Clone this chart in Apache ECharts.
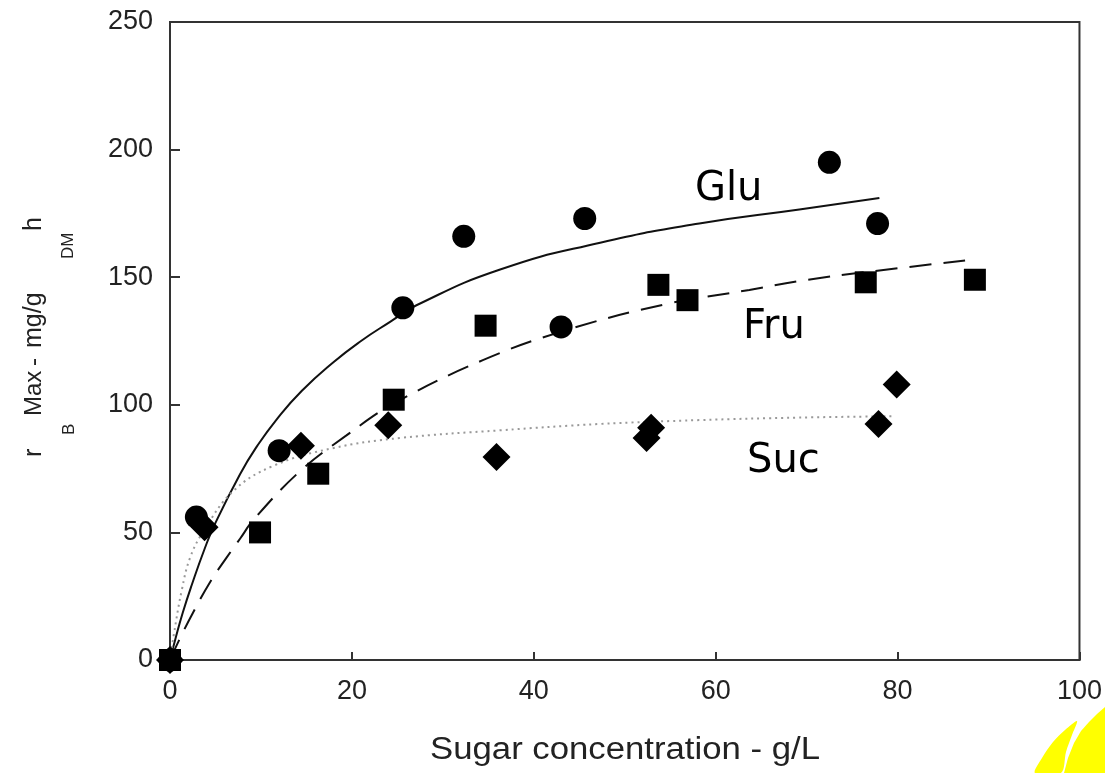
<!DOCTYPE html>
<html><head><meta charset="utf-8">
<script src="https://cdn.jsdelivr.net/npm/echarts@6/dist/echarts.min.js"></script>
<style>html,body{margin:0;padding:0;background:#fff}#chart{width:1105px;height:773px}</style>
</head><body><div id="chart"></div>
<script>
// Measured points (sugar concentration g/L, rate)
const gluX = [0, 2.9, 12.0, 25.6, 32.3, 43.0, 45.6, 72.5, 77.8];
const gluY = [0, 56, 82, 138, 166, 130.5, 173, 195, 171];
const fruX = [0, 9.9, 16.3, 24.6, 34.7, 53.7, 56.9, 76.5, 88.5];
const fruY = [0, 50, 73, 102, 131, 147, 141, 148, 149];
const sucX = [0, 3.8, 14.4, 24.0, 35.9, 52.4, 52.9, 77.9, 79.9];
const sucY = [0, 52, 84, 92, 79.5, 87, 91, 92.5, 108];
// Fitted curves
const gluFitX = [0, 0.6, 1.4, 2.4, 3.8, 4.9, 7.7, 9.5, 11.8, 14.5, 17.9, 21, 24.2, 27.1, 36.3, 47.3, 58.2, 69.2, 78];
const gluFitY = [0, 8.3, 18.5, 29.5, 43.5, 53, 72.8, 83.4, 94.6, 105.5, 116.5, 125, 132.5, 139, 153, 163.5, 171, 176.5, 181];
const fruFitX = [0, 1.1, 2.6, 4.4, 6.2, 7.7, 9.2, 14.3, 19.4, 24.6, 34.4, 43.6, 54.6, 63.7, 69.2, 76.5, 88.6];
const fruFitY = [0, 8.5, 19, 30.5, 40, 47.5, 55, 74, 88, 100.5, 117.5, 129.3, 139.5, 145, 148.5, 152, 157];
const sucFitX = [0, 0.4, 1.3, 2.2, 3.6, 6.9, 11.3, 17.9, 25.3, 36.3, 47.3, 58.2, 69.2, 79.5];
const sucFitY = [0, 9.5, 27.5, 40, 50, 66, 76, 83, 87, 90, 92.5, 94, 95, 95.5];
const xTicks = [0, 20, 40, 60, 80, 100];
const yTicks = [0, 50, 100, 150, 200, 250];
const curveLabels = ['Glu', 'Fru', 'Suc'];

const zip = (xs, ys) => xs.map((x, i) => [x, ys[i]]);
const chart = echarts.init(document.getElementById('chart'), null, {renderer: 'canvas'});
const axisFont = 'Liberation Sans, Arial, sans-serif';
const lblFont = 'DejaVu Sans, Verdana, sans-serif';

function rotText(text, x, y, size) {
  return {type: 'text', x: x, y: y, rotation: Math.PI / 2,
    style: {text: text, fontFamily: axisFont, fontSize: size, fill: '#222', align: 'left', verticalAlign: 'middle'}};
}

chart.setOption({
  animation: false,
  backgroundColor: '#fff',
  grid: {left: 170, right: 25, top: 22, bottom: 113, show: true, borderColor: '#333', borderWidth: 2, backgroundColor: 'transparent'},
  xAxis: {type: 'value', min: xTicks[0], max: xTicks[xTicks.length - 1], interval: 20,
    axisLine: {show: true, lineStyle: {color: '#333', width: 2}},
    axisTick: {show: true, inside: true, length: 8, lineStyle: {color: '#333', width: 2}},
    axisLabel: {fontFamily: axisFont, fontSize: 27, color: '#222', margin: 18},
    splitLine: {show: false}},
  yAxis: {type: 'value', min: yTicks[0], max: yTicks[yTicks.length - 1], interval: 50,
    axisLine: {show: true, lineStyle: {color: '#333', width: 2}},
    axisTick: {show: true, inside: true, length: 10, lineStyle: {color: '#333', width: 2}},
    axisLabel: {fontFamily: axisFont, fontSize: 27, color: '#222', margin: 17},
    splitLine: {show: false}},
  series: [
    {name: 'Glu fit', type: 'line', data: zip(gluFitX, gluFitY), showSymbol: false, smooth: 0.5, silent: true,
      lineStyle: {color: '#111', width: 2, type: 'solid'}, z: 2},
    {name: 'Fru fit', type: 'line', data: zip(fruFitX, fruFitY), showSymbol: false, smooth: 0.4, silent: true,
      lineStyle: {color: '#111', width: 2, type: [22, 12]}, z: 2},
    {name: 'Suc fit', type: 'line', data: zip(sucFitX, sucFitY), showSymbol: false, smooth: 0.4, silent: true,
      lineStyle: {color: '#999', width: 2, type: [2, 4]}, z: 2},
    {name: 'Glu', type: 'scatter', data: zip(gluX, gluY), symbol: 'circle', symbolSize: 23,
      itemStyle: {color: '#000', opacity: 1}, z: 5},
    {name: 'Fru', type: 'scatter', data: zip(fruX, fruY), symbol: 'rect', symbolSize: 22,
      itemStyle: {color: '#000', opacity: 1}, z: 5},
    {name: 'Suc', type: 'scatter', data: zip(sucX, sucY), symbol: 'diamond', symbolSize: 28,
      itemStyle: {color: '#000', opacity: 1}, z: 5}
  ],
  graphic: [
    {type: 'text', left: 695, top: 170, style: {text: curveLabels[0], fontFamily: lblFont, fontSize: 40, fill: '#000'}},
    {type: 'text', left: 743, top: 308, style: {text: curveLabels[1], fontFamily: lblFont, fontSize: 40, fill: '#000'}},
    {type: 'text', left: 747, top: 442, style: {text: curveLabels[2], fontFamily: lblFont, fontSize: 40, fill: '#000'}},
    {type: 'text', x: 625, y: 750, scaleX: 1.12, style: {text: 'Sugar concentration - g/L', fontFamily: axisFont, fontSize: 31, fill: '#222', align: 'center', verticalAlign: 'middle'}},
    rotText('r', 34, 457, 25),
    rotText('B', 69, 435, 17),
    rotText('Max', 34, 416, 24),
    rotText('-', 34, 366, 24),
    rotText('mg/g', 34, 348, 25),
    rotText('DM', 68, 259, 17),
    rotText('h', 34, 231, 25),
    {type: 'polygon', shape: {smooth: 0.3, points: [[1035, 773], [1042, 758], [1053, 742], [1065, 730], [1077, 721], [1072, 735], [1066, 752], [1061, 773]]}, style: {fill: '#ffff00'}},
    {type: 'polygon', shape: {points: [[1064, 773], [1068, 758], [1074, 743], [1081, 731], [1089, 722], [1097, 714], [1105, 707], [1105, 773]]}, style: {fill: '#ffff00'}}
  ]
});
</script></body></html>
